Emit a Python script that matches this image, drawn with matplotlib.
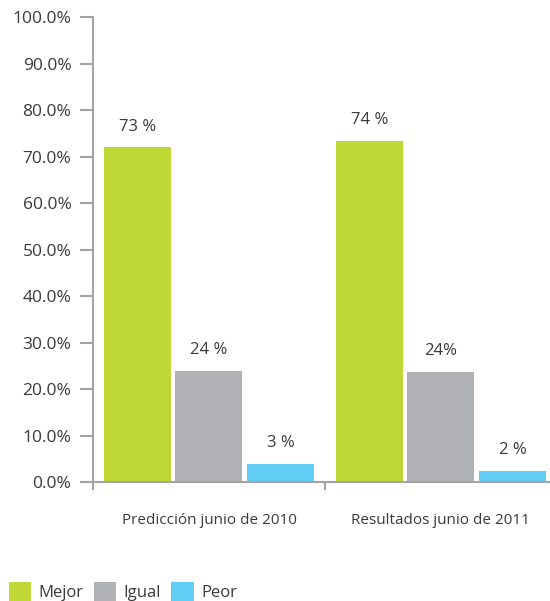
import matplotlib.pyplot as plt
from matplotlib.patches import Patch
import numpy as np

plt.rcParams['font.family'] = ['Open Sans', 'DejaVu Sans']

## Data
categories = ["Predicción junio de 2010", "Resultados junio de 2011"]
series_names = ["Mejor", "Igual", "Peor"]
mejor = [72.0, 73.4]
igual = [23.9, 23.7]
peor = [3.9, 2.4]
mejor_labels = ["73 %", "74 %"]
igual_labels = ["24 %", "24%"]
peor_labels = ["3 %", "2 %"]
yticks = [0, 10, 20, 30, 40, 50, 60, 70, 80, 90, 100]

colors = ['#c0d836', '#b1b2b5', '#62cdf4']
axis_color = '#a3a3a6'
text_color = '#3a3a3a'

fig = plt.figure(figsize=(5.5, 6.01), dpi=100)
ax = fig.add_axes([0.169, 0.198, 0.8436, 0.7737])

x = np.arange(len(categories))
width = 0.289
offsets = [-0.308, 0.0, 0.308]

#Drawing each series with its value labels above the bars.
for vals, labels, off, col in zip([mejor, igual, peor],
                                  [mejor_labels, igual_labels, peor_labels],
                                  offsets, colors):
    bars = ax.bar(x + off, vals, width, color=col)
    for b, lab in zip(bars, labels):
        ax.annotate(lab, (b.get_x() + b.get_width() / 2, b.get_height()),
                    xytext=(0, 9), textcoords='offset points',
                    ha='center', va='bottom', fontsize=12, color=text_color)

ax.set_xlim(-0.5, 1.5)
ax.set_ylim(0, 100)
ax.set_yticks(yticks)
ax.set_yticklabels(["%.1f%%" % t for t in yticks])
ax.set_xticks(x)
ax.set_xticklabels(categories)
ax.set_xticks([-0.5, 0.5, 1.5], minor=True)

for s in ['top', 'right']:
    ax.spines[s].set_visible(False)
for s in ['left', 'bottom']:
    ax.spines[s].set_color(axis_color)
    ax.spines[s].set_linewidth(1.5)

ax.tick_params(axis='y', direction='out', length=9.5, width=1.5, color=axis_color,
               pad=6, labelsize=12.5, labelcolor=text_color)
ax.tick_params(axis='x', which='major', length=0, pad=22, labelsize=11,
               labelcolor=text_color)
ax.tick_params(axis='x', which='minor', direction='out', length=6, width=1.5,
               color=axis_color)

handles = [Patch(facecolor=c, edgecolor='none') for c in colors]
fig.legend(handles, series_names, loc='lower left', bbox_to_anchor=(0.016, 0.0),
           ncol=3, frameon=False, fontsize=12, handlelength=1.35, handleheight=1.35,
           handletextpad=0.45, columnspacing=0.6, labelcolor=text_color,
           borderaxespad=0, borderpad=0)

fig.savefig('out.png', dpi=100)
